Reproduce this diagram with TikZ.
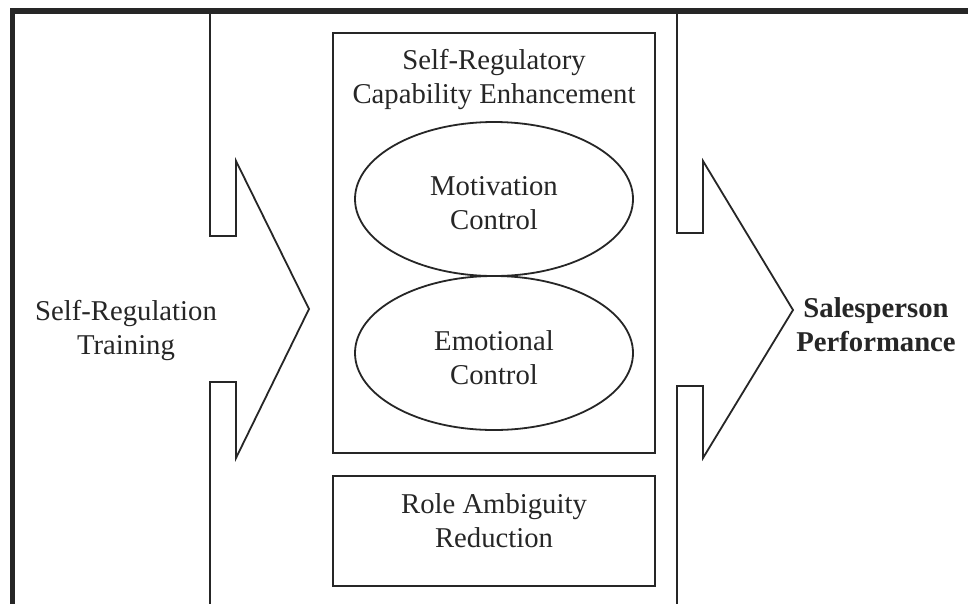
\documentclass[tikz,border=0pt]{standalone}
\usepackage{fontspec}
\setmainfont{Liberation Serif}
\usetikzlibrary{shapes.geometric}
\begin{document}
\begin{tikzpicture}[x=1pt,y=-1pt,
  shapeline/.style={line width=1.8pt, draw=black!85},
  framebox/.style={shapeline, rectangle, inner sep=0pt, minimum width=322pt},
  oval/.style={shapeline, ellipse, inner sep=0pt, minimum width=278pt, minimum height=154pt},
  lbl/.style={inner sep=0pt, align=center, font=\fontsize{28.7}{34}\selectfont, text=black!85},
]
\useasboundingbox (0,0) rectangle (968,603);
\fill[white] (0,0) rectangle (968,603);
% outer frame
\draw[line width=5.5pt, draw=black!85] (12.5,606) -- (12.5,11) -- (971,11);
% left arrow
\draw[shapeline] (210,11) -- (210,236) -- (236,236) -- (236,161) -- (309,309) -- (236,458) -- (236,382) -- (210,382) -- (210,606);
% right arrow
\draw[shapeline] (677,11) -- (677,233) -- (703,233) -- (703,161) -- (793,310) -- (703,458) -- (703,386) -- (677,386) -- (677,606);
% central box
\node[framebox, minimum height=420pt] (cap) at (494,243) {};
\node[lbl, anchor=base] (captitle) at (494,103) {Self-Regulatory\\Capability Enhancement};
\node[oval] (mot) at (494,199) {};
\node[lbl, anchor=base] (mottext) at (494,229) {Motivation\\Control};
\node[oval] (emo) at (494,353) {};
\node[lbl, anchor=base] (emotext) at (494,384) {Emotional\\Control};
% role box
\node[framebox, minimum height=110pt] (role) at (494,531) {};
\node[lbl, anchor=base] (roletext) at (494,547) {Role Ambiguity\\Reduction};
% side labels
\node[lbl, anchor=base] (training) at (126,354) {Self-Regulation\\Training};
\node[lbl, anchor=base, font=\fontsize{28.7}{34}\selectfont\bfseries] (perf) at (876,351) {Salesperson\\Performance};
\end{tikzpicture}
\end{document}
